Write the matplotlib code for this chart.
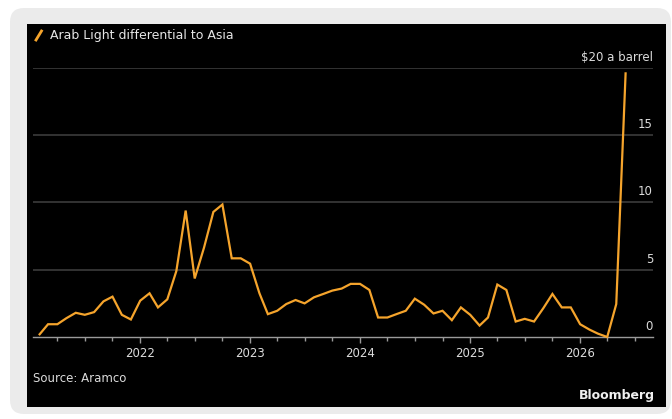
import matplotlib
matplotlib.use("Agg")
import matplotlib.pyplot as plt
import matplotlib.dates as mdates
from matplotlib.patches import FancyBboxPatch, Rectangle
from matplotlib.lines import Line2D
from matplotlib.transforms import IdentityTransform
import pandas as pd
import datetime as dt

# ---- data ----
months = pd.date_range("2021-02-01", "2026-06-01", freq="MS")
differential = [
    # 2021 Feb-Dec
    0.2, 0.95, 0.95, 1.4, 1.8, 1.65, 1.85, 2.65, 3.0, 1.65, 1.3,
    # 2022
    2.7, 3.25, 2.2, 2.8, 4.9, 9.4, 4.35, 6.65, 9.3, 9.85, 5.85, 5.85,
    # 2023
    5.45, 3.25, 1.7, 1.95, 2.45, 2.75, 2.5, 2.95, 3.2, 3.45, 3.6, 3.95,
    # 2024
    3.95, 3.5, 1.45, 1.45, 1.7, 1.95, 2.85, 2.4, 1.75, 1.95, 1.25, 2.2,
    # 2025
    1.65, 0.85, 1.45, 3.9, 3.5, 1.15, 1.35, 1.15, 2.15, 3.2, 2.2, 2.2,
    # 2026 Jan-Jun
    0.95, 0.55, 0.25, 0.0, 2.45, 19.6,
]
y_ticks = [0, 5, 10, 15, 20]
y_tick_labels = ["0", "5", "10", "15", "$20 a barrel"]
year_ticks = [2022, 2023, 2024, 2025, 2026]
title = "Arab Light differential to Asia"
source = "Source: Aramco"
brand = "Bloomberg"

W, H = 672, 419
fig = plt.figure(figsize=(W / 100, H / 100), dpi=100, facecolor="white")

def px(x, y_top):
    return x, H - y_top

# gray frame
frame = FancyBboxPatch((10, H - 414), 661, 406,
                       boxstyle="round,pad=0,rounding_size=14",
                       transform=IdentityTransform(), facecolor="#ebebeb",
                       edgecolor="none", zorder=0)
fig.add_artist(frame)
panel = Rectangle((27, H - 407), 639, 383, transform=IdentityTransform(),
                  facecolor="black", edgecolor="none", zorder=0.5)
fig.add_artist(panel)

ax = fig.add_axes([33 / W, (H - 337) / H, (653 - 33) / W, (337 - 68) / H])
ax.set_facecolor("none")
ax.set_zorder(2)

line_color = "#f5a42c"
ax.plot(months, differential, color=line_color, lw=1.6, clip_on=False,
        solid_joinstyle="miter", zorder=3)

ax.set_ylim(0, 20)
ax.set_xlim(dt.date(2021, 1, 10), dt.date(2026, 8, 31))

for v in y_ticks[1:]:
    ax.axhline(v, color="#3c3c3c", lw=1.2, zorder=1)

for spine in ["top", "left", "right"]:
    ax.spines[spine].set_visible(False)
ax.spines["bottom"].set_color("#9a9a9a")
ax.spines["bottom"].set_linewidth(1.0)

ax.set_yticks([])
ax.set_xticks([mdates.date2num(dt.date(y, 1, 1)) for y in year_ticks])
ax.set_xticklabels([str(y) for y in year_ticks])
minor = [mdates.date2num(dt.date(y, m, 1)) for y in range(2021, 2027)
         for m in (4, 7, 10) if dt.date(y, m, 1) < dt.date(2026, 8, 31)]
ax.set_xticks(minor, minor=True)
ax.tick_params(axis="x", which="major", direction="out", length=4.5,
               width=1, color="#9a9a9a", labelcolor="#dcdcdc",
               labelsize=8.5, pad=2.5)
ax.tick_params(axis="x", which="minor", direction="out", length=3,
               width=1, color="#9a9a9a")

for v, lab in zip(y_ticks, y_tick_labels):
    ax.annotate(lab, xy=(1.0, v), xycoords=("axes fraction", "data"),
                xytext=(0, 3), textcoords="offset points",
                ha="right", va="bottom", color="#dcdcdc", fontsize=8.5)

# title with legend icon
fig.add_artist(Line2D([36, 41.5], [H - 40, H - 31], color=line_color, lw=2,
                      transform=IdentityTransform()))
fig.text(50 / W, (H - 35) / H, title, color="#e6e6e6", fontsize=9,
         ha="left", va="center")
fig.text(33 / W, (H - 378) / H, source, color="#dcdcdc", fontsize=8.5,
         ha="left", va="center")
fig.text(655 / W, (H - 395) / H, brand, color="#f0f0f0", fontsize=9,
         fontweight="bold", ha="right", va="center")

fig.savefig("out.png", dpi=100, facecolor="white")
